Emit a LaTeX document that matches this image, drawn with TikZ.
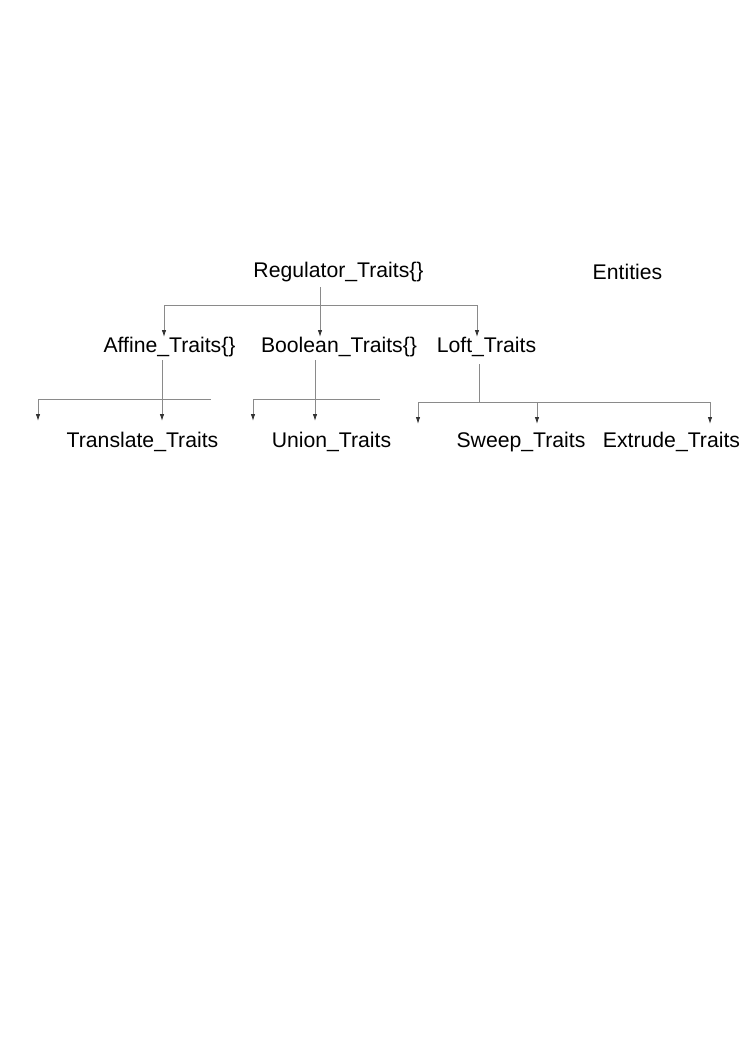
\documentclass[tikz,border=0pt]{standalone}
\usepackage{fontspec}
\setmainfont{Liberation Sans}
\usetikzlibrary{arrows.meta}
\definecolor{linegray}{HTML}{8A8A8A}
\definecolor{tipgray}{HTML}{333333}
\tikzset{
  lbl/.style={anchor=base, inner sep=0pt, outer sep=0pt, font=\fontsize{21.2}{25}\selectfont},
  conn/.style={draw=linegray, line width=0.9pt},
  arr/.style={conn, -{Latex[length=7pt,width=4.5pt,fill=tipgray,color=tipgray]}},
}
\begin{document}
\begin{tikzpicture}[x=1pt,y=-1pt]
\useasboundingbox (0,0) rectangle (745,1053);
% labels
\node[lbl] (root) at (338.5,277) {Regulator\_Traits\{\}};
\node[lbl] (ent) at (627.5,279) {Entities};
\node[lbl] (aff) at (169.5,352) {Affine\_Traits\{\}};
\node[lbl] (bool) at (339,352) {Boolean\_Traits\{\}};
\node[lbl] (loft) at (486.5,352) {Loft\_Traits};
\node[lbl] (tr) at (142.5,447) {Translate\_Traits};
\node[lbl] (un) at (331.5,447) {Union\_Traits};
\node[lbl] (sw) at (521,447) {Sweep\_Traits};
\node[lbl] (ex) at (671.5,447) {Extrude\_Traits};
% junction coordinates
\coordinate (rb) at (320,305);
\coordinate (rbl) at (164,305);
\coordinate (rbr) at (477,305);
\coordinate (ab) at (162,399);
\coordinate (abl) at (38,399);
\coordinate (abr) at (211,399);
\coordinate (ae) at (38,421);
\coordinate (bb) at (315,399);
\coordinate (bbl) at (253,399);
\coordinate (bbr) at (380,399);
\coordinate (be) at (253,421);
\coordinate (lb) at (479,402);
\coordinate (lbl) at (418,402);
\coordinate (lbr) at (710,402);
\coordinate (le) at (418,424);
% root level
\draw[conn] (320,287) -- (rb);
\draw[conn] (rbl) -- (rbr);
\draw[arr] (rbl) -- (164,337);
\draw[arr] (rb) -- (320,337);
\draw[arr] (rbr) -- (477,337);
% affine
\draw[conn] (162,360) -- (ab);
\draw[conn] (abl) -- (abr);
\draw[arr] (abl) -- (ae);
\draw[arr] (ab) -- (162,421);
% boolean
\draw[conn] (315,360) -- (bb);
\draw[conn] (bbl) -- (bbr);
\draw[arr] (bbl) -- (be);
\draw[arr] (bb) -- (315,421);
% loft
\draw[conn] (479,364) -- (lb);
\draw[conn] (lbl) -- (lbr);
\draw[arr] (lbl) -- (le);
\draw[arr] (537,402) -- (537,424);
\draw[arr] (lbr) -- (710,424);
\end{tikzpicture}
\end{document}
